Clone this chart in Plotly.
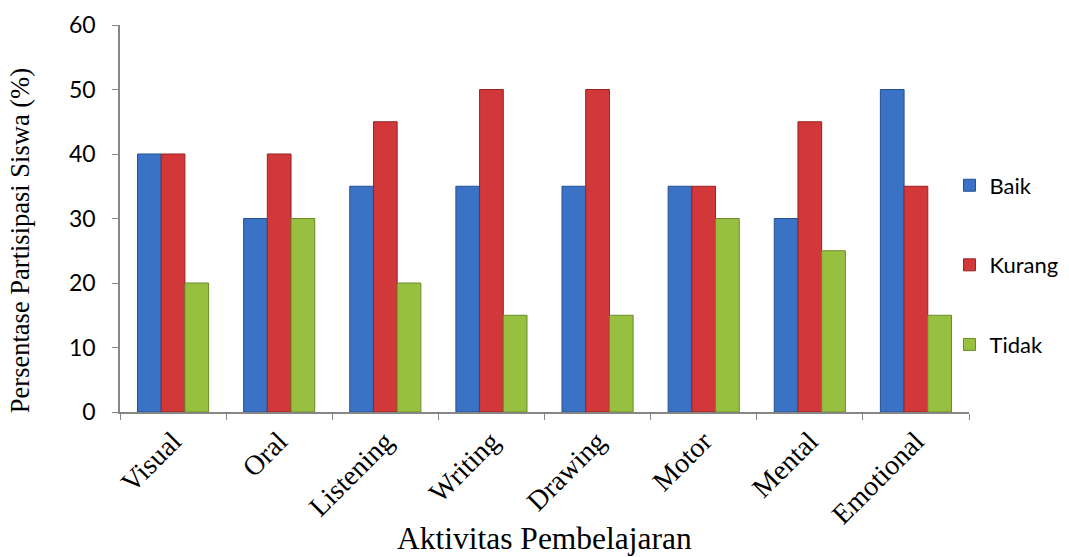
import plotly.graph_objects as go

categories = ["Visual", "Oral", "Listening", "Writing", "Drawing", "Motor", "Mental", "Emotional"]
baik = [40, 30, 35, 35, 35, 35, 30, 50]
kurang = [40, 40, 45, 50, 50, 35, 45, 35]
tidak = [20, 30, 20, 15, 15, 30, 25, 15]
y_ticks = [0, 10, 20, 30, 40, 50, 60]

series = [
    ("Baik", baik, "#3A73C6", "#24508F"),
    ("Kurang", kurang, "#D2383A", "#962222"),
    ("Tidak", tidak, "#98C040", "#6A8A2A"),
]

fig = go.Figure()
for i, (name, vals, col, edge) in enumerate(series):
    fig.add_trace(go.Bar(
        x=categories, y=vals, name=name,
        marker=dict(color=col, line=dict(color=edge, width=1)),
        legendgroup=f"g{i}",
    ))

axis_color = "#868686"
fig.update_layout(
    width=1069, height=557,
    margin=dict(l=120, r=100, t=25, b=145, autoexpand=False),
    paper_bgcolor="white", plot_bgcolor="white",
    barmode="group", bargap=0.33, bargroupgap=0,
    showlegend=True,
    legend=dict(
        x=0.977, xanchor="left", y=0.38, yanchor="middle",
        font=dict(family="Lato", size=22, color="black"),
        tracegroupgap=48, bgcolor="rgba(0,0,0,0)",
    ),
    xaxis=dict(
        showline=True, linecolor=axis_color, linewidth=1.5,
        ticks="outside", tickson="boundaries", ticklen=6, tickcolor=axis_color,
        tickangle=-45,
        tickfont=dict(family="Liberation Serif", size=28, color="black"),
        showgrid=False,
    ),
    yaxis=dict(
        range=[0, 60], tickvals=y_ticks,
        showline=True, linecolor=axis_color, linewidth=1.5,
        ticks="outside", ticklen=6, tickcolor=axis_color,
        tickfont=dict(family="Lato", size=23, color="black"),
        ticklabelstandoff=12,
        showgrid=False, zeroline=False,
    ),
    annotations=[
        dict(text="Persentase Partisipasi Siswa (%)", xref="paper", yref="paper",
             x=-0.1178, y=0.444, xanchor="center", yanchor="middle", textangle=-90,
             showarrow=False, font=dict(family="Liberation Serif", size=26.5, color="black")),
        dict(text="Aktivitas Pembelajaran", xref="paper", yref="paper",
             x=0.5, y=-(538 - 412) / 387, xanchor="center", yanchor="middle",
             showarrow=False, font=dict(family="Liberation Serif", size=31.5, color="black")),
    ],
)

fig.write_html("out.html")
